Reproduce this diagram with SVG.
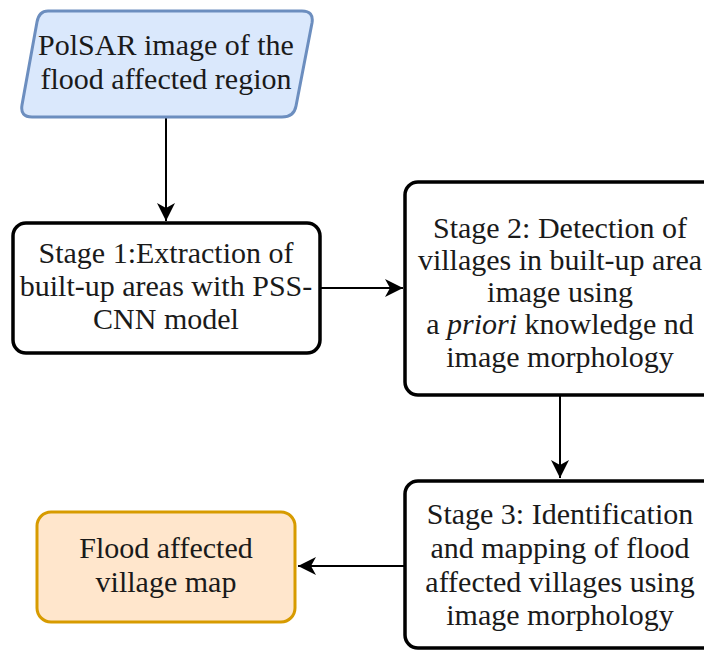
<svg xmlns="http://www.w3.org/2000/svg" width="704" height="650" viewBox="0 0 704 650">
<defs>
<style>
text{font-family:'Liberation Serif','Times New Roman',serif;font-size:30px;fill:#1a1a1a;text-anchor:middle}
.box{fill:#ffffff;stroke:#000000;stroke-width:3.5}
.edge{fill:none;stroke:#000000;stroke-width:2}
</style>
<marker id="arr" viewBox="0 0 20 20" refX="18" refY="10" markerWidth="20" markerHeight="20" markerUnits="userSpaceOnUse" orient="auto">
<path d="M18,10 L0,1 L5,10 L0,19 Z" fill="#000"/>
</marker>
</defs>
<g id="connectors">
<line class="edge" x1="166" y1="118" x2="166" y2="221" marker-end="url(#arr)"/>
<line class="edge" x1="321" y1="288" x2="403" y2="288" marker-end="url(#arr)"/>
<line class="edge" x1="560" y1="396" x2="560" y2="478" marker-end="url(#arr)"/>
<line class="edge" x1="405" y1="566" x2="298" y2="566" marker-end="url(#arr)"/>
</g>
<g id="input">
<path d="M48,11 L302,11 Q314,11 312,23 L296,106 Q294,117 282,117 L32,117 Q20,117 22,105 L37,22 Q39,11 48,11 Z" fill="#dae8fc" stroke="#6c8ebf" stroke-width="3"/>
<text x="166" y="55">PolSAR image of the</text>
<text x="166" y="89">flood affected region</text>
</g>
<g id="stage1">
<rect class="box" x="13" y="223" width="307" height="130" rx="13"/>
<text x="166" y="263">Stage 1:Extraction of</text>
<text x="166" y="296">built-up areas with PSS-</text>
<text x="166" y="329">CNN model</text>
</g>
<g id="stage2">
<rect class="box" x="405" y="182" width="312" height="213" rx="13"/>
<text x="560" y="238">Stage 2: Detection of</text>
<text x="560" y="270">villages in built-up area</text>
<text x="560" y="302">image using</text>
<text x="560" y="334">a <tspan font-style="italic">priori</tspan> knowledge nd</text>
<text x="560" y="367">image morphology</text>
</g>
<g id="stage3">
<rect class="box" x="405" y="481" width="312" height="167" rx="13"/>
<text x="560" y="524">Stage 3: Identification</text>
<text x="560" y="558">and mapping of flood</text>
<text x="560" y="592">affected villages using</text>
<text x="560" y="625">image morphology</text>
</g>
<g id="output">
<rect x="37" y="512" width="258" height="110" rx="14" fill="#ffe6cc" stroke="#d79b00" stroke-width="3"/>
<text x="166" y="558">Flood affected</text>
<text x="166" y="592">village map</text>
</g>
</svg>
